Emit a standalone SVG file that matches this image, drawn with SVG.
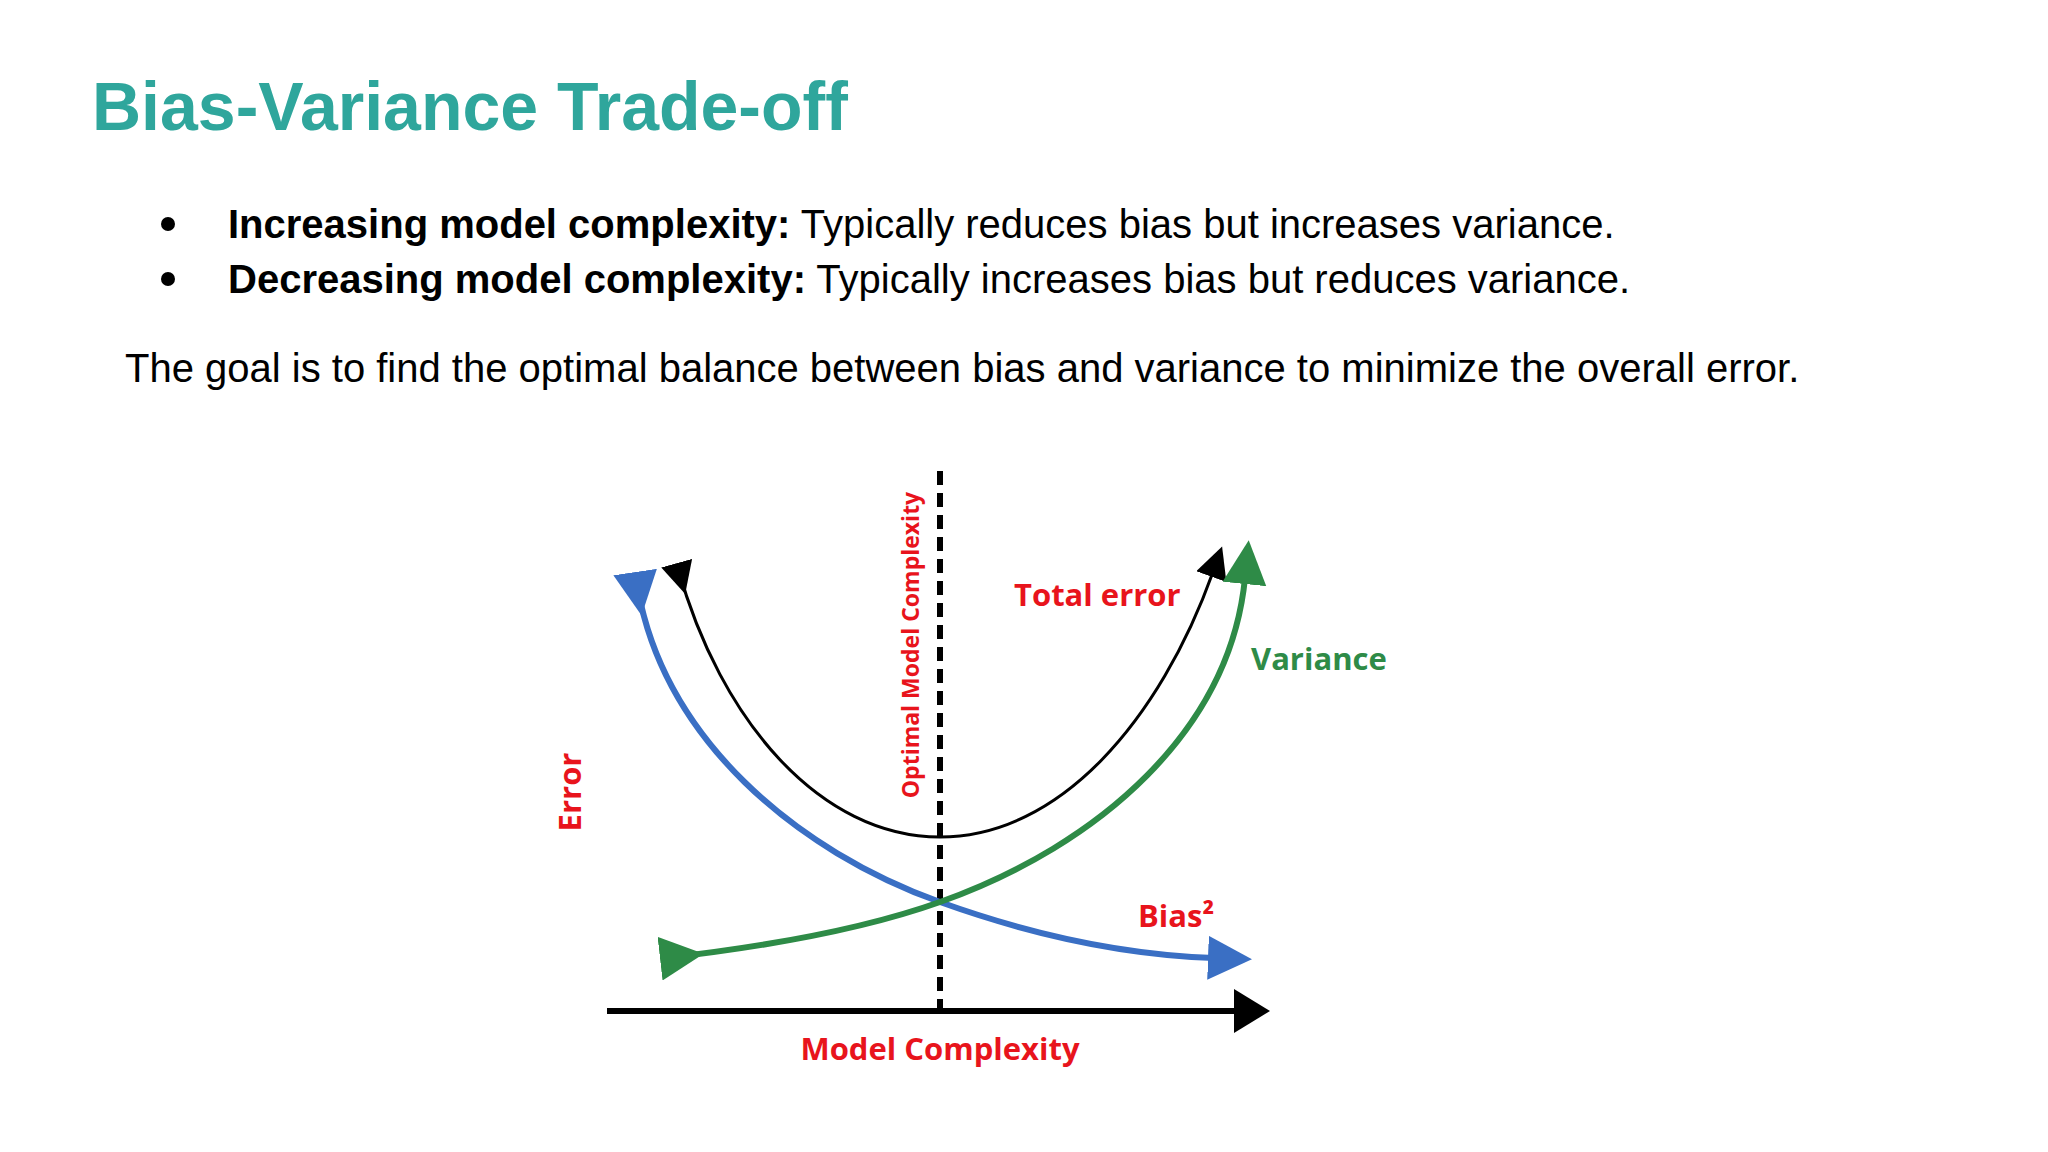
<svg xmlns="http://www.w3.org/2000/svg" width="2048" height="1152" viewBox="0 0 2048 1152">
<style>
.t{font-family:"Liberation Sans",Arial,sans-serif;font-size:40px;fill:#000}
.r{font-family:"Open Sans","Liberation Sans",sans-serif;font-weight:700;fill:#e8141c}
.c{fill:none}
</style>
<defs>
<marker id="ab" markerUnits="userSpaceOnUse" markerWidth="50" markerHeight="50" refX="6" refY="22" orient="auto"><path d="M0,0 L44,22 L0,44 z" fill="#3a6fc4"/></marker>
<marker id="ag" markerUnits="userSpaceOnUse" markerWidth="50" markerHeight="50" refX="6" refY="22" orient="auto"><path d="M0,0 L44,22 L0,44 z" fill="#2e8b47"/></marker>
<marker id="ak" markerUnits="userSpaceOnUse" markerWidth="40" markerHeight="40" refX="5" refY="16" orient="auto"><path d="M0,0 L32,16 L0,32 z" fill="#000"/></marker>
<marker id="ax" markerUnits="userSpaceOnUse" markerWidth="50" markerHeight="50" refX="2" refY="22" orient="auto"><path d="M0,0 L36,22 L0,44 z" fill="#000"/></marker>
</defs>
<rect width="2048" height="1152" fill="#fff"/>
<g id="title"><text x="92" y="130" font-family="Liberation Sans,Arial,sans-serif" font-weight="700" font-size="68" fill="#2fa69c">Bias-Variance Trade-off</text></g>
<g id="bullets">
<circle cx="168" cy="224" r="7" fill="#000"/>
<text class="t" x="228" y="238"><tspan font-weight="700">Increasing model complexity:</tspan> Typically reduces bias but increases variance.</text>
<circle cx="168" cy="279" r="7" fill="#000"/>
<text class="t" x="228" y="293"><tspan font-weight="700">Decreasing model complexity:</tspan> Typically increases bias but reduces variance.</text>
<text class="t" x="125" y="382">The goal is to find the optimal balance between bias and variance to minimize the overall error.</text>
</g>
<g id="connectors">
<line x1="940" y1="471" x2="940" y2="1008" stroke="#000" stroke-width="6" stroke-dasharray="14,8"/>
<line x1="607" y1="1011" x2="1236" y2="1011" stroke="#000" stroke-width="6" marker-end="url(#ax)"/>
<path class="c" d="M678,568 C720,720 820,837 940,837 C1060,837 1160,720 1213,572" stroke="#000" stroke-width="3" marker-start="url(#ak)" marker-end="url(#ak)"/>
<path class="c" d="M636,578 C660,740 800,852 940,902 C1040,938 1130,955 1214,958" stroke="#3a6fc4" stroke-width="6" marker-start="url(#ab)" marker-end="url(#ab)"/>
<path class="c" d="M666,958 C780,945 870,927 940,902 C1100,845 1230,730 1245,578" stroke="#2e8b47" stroke-width="6" marker-start="url(#ag)" marker-end="url(#ag)"/>
</g>
<g id="labels">
<text class="r" x="1014" y="606" font-size="31">Total error</text>
<text class="r" x="1251" y="670" font-size="31" fill="#2e8b47" style="fill:#2e8b47">Variance</text>
<text class="r" x="1138" y="927" font-size="31">Bias²</text>
<text class="r" x="940" y="1060" font-size="31" text-anchor="middle">Model Complexity</text>
<text class="r" x="0" y="0" font-size="31" text-anchor="middle" transform="translate(581,792) rotate(-90)">Error</text>
<text class="r" x="0" y="0" font-size="23" text-anchor="middle" transform="translate(919,645) rotate(-90)">Optimal Model Complexity</text>
</g>
</svg>
